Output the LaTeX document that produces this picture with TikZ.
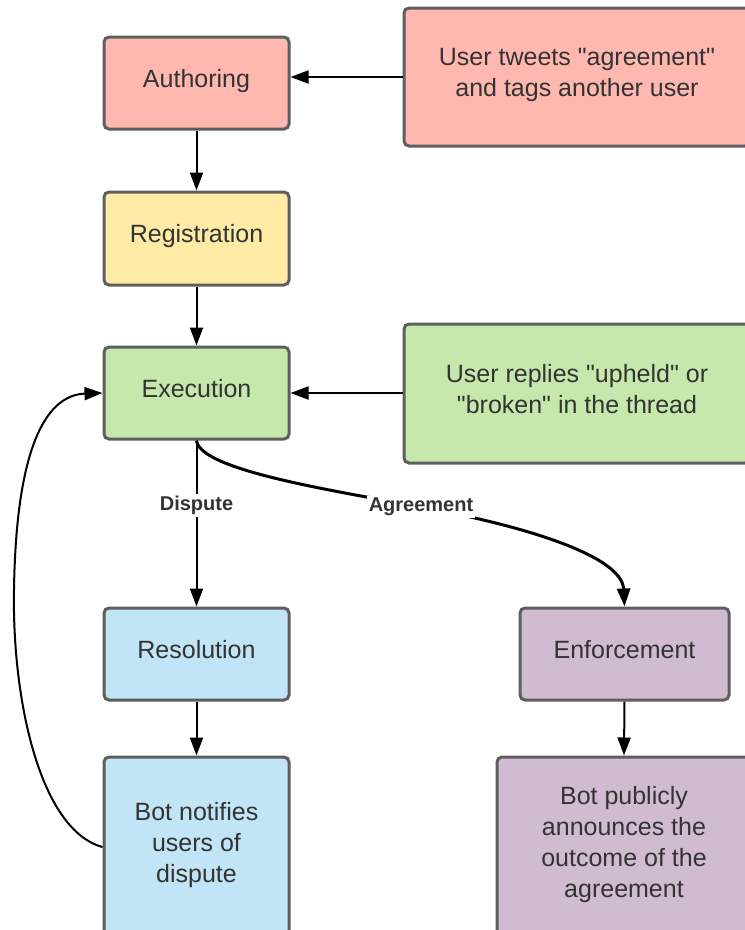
\documentclass[tikz,border=0pt]{standalone}
\usepackage{fontspec}
\setmainfont{Liberation Sans}[Ligatures=TeXOff]
\usetikzlibrary{arrows.meta}
\definecolor{bordergray}{HTML}{5E5E5E}
\definecolor{txtgray}{HTML}{333333}
\definecolor{redfill}{HTML}{FFB8B0}
\definecolor{yellowfill}{HTML}{FFEAA6}
\definecolor{greenfill}{HTML}{C7E8AC}
\definecolor{bluefill}{HTML}{C1E4F6}
\definecolor{purplefill}{HTML}{D1BBD1}
\tikzset{
  box/.style={draw=bordergray, line width=3pt, rounded corners=5pt, align=center,
    text=txtgray, font=\fontsize{25}{31}\selectfont, inner sep=0pt, text depth=10pt},
  arr/.style={draw=black, line width=2pt, -{Triangle[length=18pt,width=13pt]}},
  lbl/.style={fill=white, text=txtgray, font=\fontsize{20}{24}\selectfont\bfseries, inner sep=2pt}
}
\begin{document}
\begin{tikzpicture}[x=1pt,y=-1pt]
\useasboundingbox (0,0) rectangle (745,930);
\node[box, fill=redfill, minimum width=185pt, minimum height=92pt] (auth) at (196.5,83) {Authoring};
\node[box, fill=redfill, minimum width=346pt, minimum height=138pt] (tweet) at (577,77) {User tweets "agreement"\\and tags another user};
\node[box, fill=yellowfill, minimum width=185pt, minimum height=93pt] (reg) at (196.5,238.5) {Registration};
\node[box, fill=greenfill, minimum width=185pt, minimum height=92pt] (exec) at (196.5,393) {Execution};
\node[box, fill=greenfill, minimum width=346pt, minimum height=139pt] (reply) at (577,393.5) {User replies "upheld" or\\"broken" in the thread};
\node[box, fill=bluefill, minimum width=185pt, minimum height=92pt] (res) at (196.5,654) {Resolution};
\node[box, fill=bluefill, minimum width=185pt, minimum height=180pt] (notif) at (196.5,847) {Bot notifies\\users of\\dispute};
\node[box, fill=purplefill, minimum width=209pt, minimum height=92pt] (enf) at (624.5,654) {Enforcement};
\node[box, fill=purplefill, minimum width=254pt, minimum height=180pt] (annc) at (624,847) {Bot publicly\\announces the\\outcome of the\\agreement};

\draw[arr] (tweet.west) -- (tweet.west -| auth.east);
\draw[arr] (auth.south) -- (reg.north);
\draw[arr] (reg.south) -- (exec.north);
\draw[arr] (reply.west |- exec.east) -- (exec.east);
\draw[arr] (exec.south) -- node[lbl, pos=0.39] (dlbl) {Dispute} (res.north);
\draw[arr, line width=3pt] (exec.south) .. controls (200,470) and (330,490) .. (421,507)
  node[lbl] (albl) {Agreement}
  .. controls (520,525) and (622,555) .. (enf.north);
\draw[arr] (notif.west) .. controls (40,830) and (12,700) .. (14,590)
  .. controls (16,450) and (45,395) .. (exec.west);
\draw[arr] (res.south) -- (notif.north);
\draw[arr] (enf.south) -- (annc.north);
\end{tikzpicture}
\end{document}
